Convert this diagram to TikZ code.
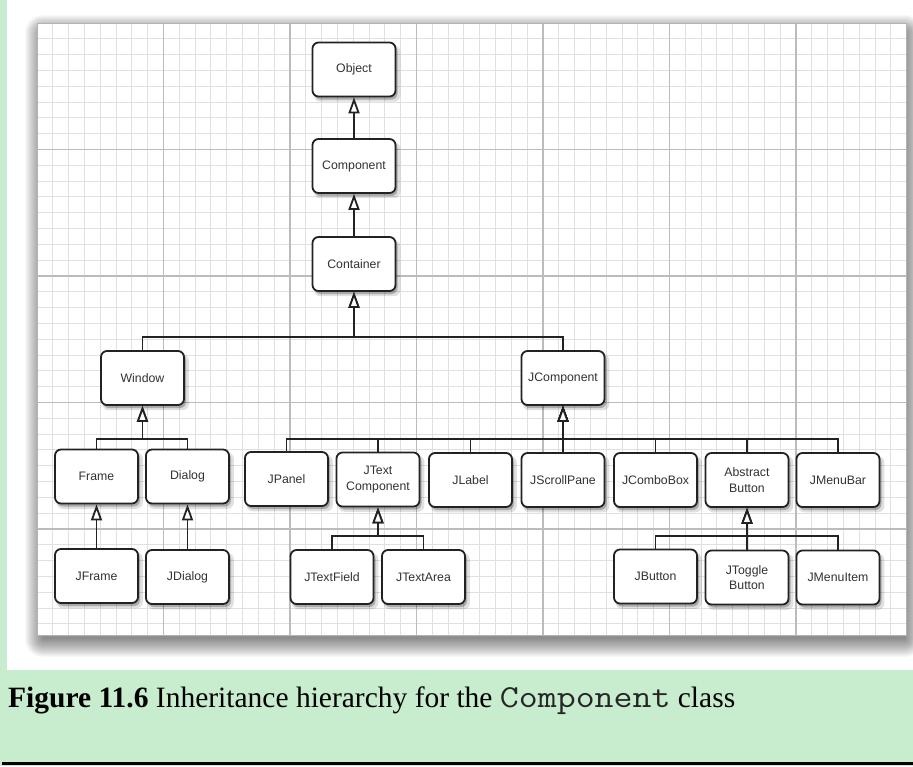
\documentclass[tikz,border=0pt]{standalone}
\usepackage{graphicx}
\usepackage{fontspec}
\setmainfont{Liberation Serif}
\setsansfont{Liberation Sans}
\usetikzlibrary{arrows.meta,shadows}
\definecolor{capgreen}{RGB}{200,236,206}
\definecolor{minorgrid}{RGB}{224,224,224}
\definecolor{majorgrid}{RGB}{188,188,188}
\definecolor{boxline}{RGB}{34,34,34}
\definecolor{boxtext}{RGB}{50,50,50}
\begin{document}
\begin{tikzpicture}[x=1pt,y=-1pt,
  cls/.style={draw=boxline, line width=1.8pt, rounded corners=6pt, fill=white,
    minimum width=83pt, minimum height=54pt, inner sep=0pt, align=center,
    text=boxtext, font=\sffamily\fontsize{12.3}{15.5}\selectfont,
    drop shadow={shadow xshift=3pt, shadow yshift=-4pt, opacity=.12, fill=black, shadow scale=1.04},
    drop shadow={shadow xshift=2pt, shadow yshift=-3pt, opacity=.24, fill=black}},
  inh/.style={draw=boxline, line width=1.8pt,
    -{Triangle[width=11pt,length=16pt,fill=white,line width=1.8pt]}},
  minorline/.style={draw=minorgrid, line width=1.1pt},
  majorline/.style={draw=majorgrid, line width=1.4pt},
]
\useasboundingbox (0,0) rectangle (913,766);
% backgrounds
\fill[capgreen] (0,0) rectangle (913,766);
\fill[white] (7,0) rectangle (913,670);
% paper shadow (soft, layered)
\foreach \i in {0,...,18}{
  \fill[black, opacity=0.026, rounded corners=\i pt] (43-\i,33-\i) rectangle (905+\i,639+\i);
}
\fill[white] (37,23) rectangle (906,635);
% grid
\foreach \k in {1,...,54}{
  \pgfmathsetmacro\xx{37+15.8125*\k}
  \draw[minorline] (\xx,23) -- (\xx,635);
}
\foreach \k in {1,...,38}{
  \pgfmathsetmacro\yy{23+15.8125*\k}
  \draw[minorline] (37,\yy) -- (906,\yy);
}
\foreach \k in {1,...,6}{
  \pgfmathsetmacro\xx{37+126.5*\k}
  \draw[majorline] (\xx,23) -- (\xx,635);
}
\foreach \k in {1,...,4}{
  \pgfmathsetmacro\yy{23+126.5*\k}
  \draw[majorline] (37,\yy) -- (906,\yy);
}
\draw[minorgrid!80!black, line width=0.8pt] (37,23) rectangle (906,635);

% nodes
\node[cls] (Object) at (354,69.5) {Object};
\node[cls] (Component) at (354,166) {Component};
\node[cls] (Container) at (354,264) {Container};
\node[cls] (Window) at (142.5,378) {Window};
\node[cls] (JComponent) at (563,378) {JComponent};
\node[cls] (Frame) at (96.5,476.5) {Frame};
\node[cls] (Dialog) at (187.5,476.5) {Dialog};
\node[cls] (JPanel) at (286.5,479) {JPanel};
\node[cls] (JTextComponent) at (378,479.5) {JText\\Component};
\node[cls] (JLabel) at (470.5,480) {JLabel};
\node[cls] (JScrollPane) at (563,480) {JScrollPane};
\node[cls] (JComboBox) at (655.5,480) {JComboBox};
\node[cls] (AbstractButton) at (747,480) {Abstract\\Button};
\node[cls] (JMenuBar) at (838,480) {JMenuBar};
\node[cls] (JFrame) at (96.5,576) {JFrame};
\node[cls] (JDialog) at (187.5,577) {JDialog};
\node[cls] (JTextField) at (332,577) {JTextField};
\node[cls] (JTextArea) at (423.5,577) {JTextArea};
\node[cls] (JButton) at (655.5,576.5) {JButton};
\node[cls] (JToggleButton) at (747,577.5) {JToggle\\Button};
\node[cls] (JMenuItem) at (838,577.5) {JMenuItem};

% bus levels
\coordinate (yA) at (0,337);
\coordinate (yB) at (0,439);
\coordinate (yD) at (0,536);
\coordinate (bA) at (Container.south |- yA);
\coordinate (bB) at (Window.south |- yB);
\coordinate (bC) at (JComponent.south |- yB);
\coordinate (bD) at (JTextComponent.south |- yD);
\coordinate (bE) at (AbstractButton.south |- yD);

% connectors
\draw[inh] (Component.north) -- (Object.south);
\draw[inh] (Container.north) -- (Component.south);
\draw[inh] (Window.north) |- (bA) -- (Container.south);
\draw[inh] (JComponent.north) |- (bA) -- (Container.south);
\draw[inh] (Frame.north) |- (bB) -- (Window.south);
\draw[inh] (Dialog.north) |- (bB) -- (Window.south);
\foreach \c in {JPanel,JTextComponent,JLabel,JScrollPane,JComboBox,AbstractButton,JMenuBar}{
  \draw[inh] (\c.north) |- (bC) -- (JComponent.south);
}
\draw[inh] (JFrame.north) -- (Frame.south);
\draw[inh] (JDialog.north) -- (Dialog.south);
\draw[inh] (JTextField.north) |- (bD) -- (JTextComponent.south);
\draw[inh] (JTextArea.north) |- (bD) -- (JTextComponent.south);
\draw[inh] (JButton.north) |- (bE) -- (AbstractButton.south);
\draw[inh] (JToggleButton.north) |- (bE) -- (AbstractButton.south);
\draw[inh] (JMenuItem.north) |- (bE) -- (AbstractButton.south);

% caption
\node[anchor=base west, inner sep=0pt, font=\fontsize{29.5}{34}\selectfont] (caption) at (8,707)
  {\textbf{Figure 11.6} Inheritance hierarchy for the {\color{black!85}\scalebox{1.15}[1]{\fontsize{32}{34}\selectfont\ttfamily Component}} class};
\draw[line width=3pt] (2,763) -- (913,763);
\end{tikzpicture}
\end{document}
